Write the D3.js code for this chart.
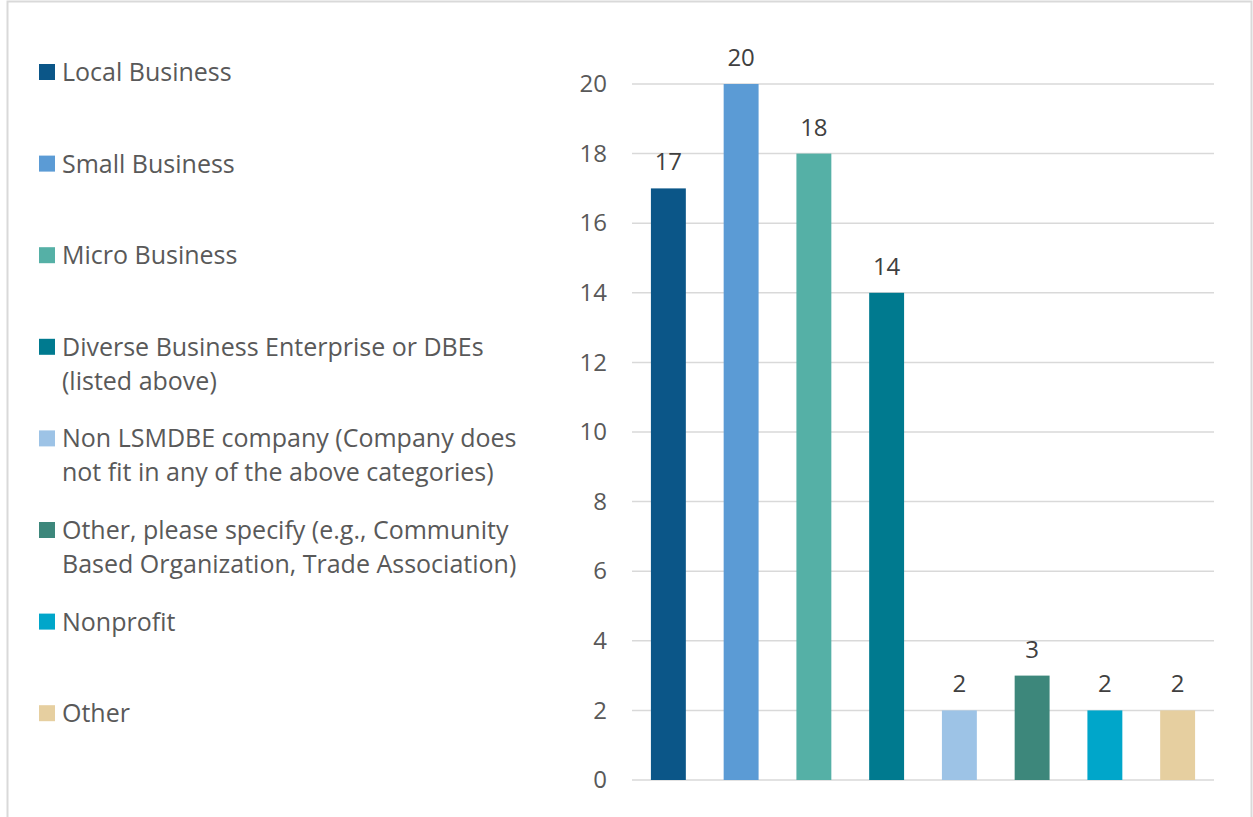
<!DOCTYPE html>
<html>
<head>
<meta charset="utf-8">
<script src="https://cdn.jsdelivr.net/npm/d3@7"></script>
<style>
  body { margin: 0; background: #fff; }
  text { font-family: "Open Sans", "Noto Sans", sans-serif; }
</style>
</head>
<body>
<div id="chart"></div>
<script>
// categories and counts
var categories = [
  ["Local Business"],
  ["Small Business"],
  ["Micro Business"],
  ["Diverse Business Enterprise or DBEs", "(listed above)"],
  ["Non LSMDBE company (Company does", "not fit in any of the above categories)"],
  ["Other, please specify (e.g., Community", "Based Organization, Trade Association)"],
  ["Nonprofit"],
  ["Other"]
];
var values = [17, 20, 18, 14, 2, 3, 2, 2];
var colors = ["#0b5688", "#5b9bd5", "#55b0a6", "#007a8f", "#9dc3e6", "#3d877b", "#00a6ca", "#e6cfa0"];
var yTicks = [0, 2, 4, 6, 8, 10, 12, 14, 16, 18, 20];

var fullWidth = 1253, fullHeight = 817;
var plot = {left: 632, right: 1214, top: 84, bottom: 780};

var svg = d3.select("#chart").append("svg")
    .attr("width", fullWidth)
    .attr("height", fullHeight);

// chart border
svg.append("rect")
    .attr("x", 7.5).attr("y", 1.5)
    .attr("width", 1244).attr("height", 830)
    .attr("fill", "none")
    .attr("stroke", "#d9d9d9")
    .attr("stroke-width", 2);

var xScale = d3.scaleBand()
    .domain(d3.range(values.length))
    .range([plot.left, plot.right])
    .paddingInner(0.52)
    .paddingOuter(0.26);

var yScale = d3.scaleLinear()
    .domain([0, 20])
    .range([plot.bottom, plot.top]);

// gridlines
svg.append("g")
  .selectAll("line")
  .data(yTicks)
  .enter().append("line")
    .attr("x1", plot.left).attr("x2", plot.right)
    .attr("y1", function(d) { return yScale(d); })
    .attr("y2", function(d) { return yScale(d); })
    .attr("stroke", "#d9d9d9")
    .attr("stroke-width", 1.5);

// y axis labels
var yAxis = svg.append("g")
    .attr("transform", "translate(" + (plot.left - 25) + ",0)")
    .call(d3.axisLeft(yScale).tickValues(yTicks).tickSize(0).tickPadding(0));
yAxis.select(".domain").remove();
yAxis.selectAll("text")
    .attr("fill", "#595959")
    .style("font-size", "24px")
    .style("font-family", "'Open Sans', 'Noto Sans', sans-serif");

// bars
svg.selectAll(".bar")
  .data(values)
  .enter().append("rect")
    .attr("class", "bar")
    .attr("x", function(d, i) { return xScale(i); })
    .attr("y", function(d) { return yScale(d); })
    .attr("width", xScale.bandwidth())
    .attr("height", function(d) { return yScale(0) - yScale(d); })
    .attr("fill", function(d, i) { return colors[i]; });

// data labels
svg.selectAll(".value")
  .data(values)
  .enter().append("text")
    .attr("class", "value")
    .attr("x", function(d, i) { return xScale(i) + xScale.bandwidth() / 2; })
    .attr("y", function(d) { return yScale(d) - 18; })
    .attr("text-anchor", "middle")
    .attr("fill", "#404040")
    .style("font-size", "24px")
    .text(function(d) { return d; });

// legend
var legendTop = 72, legendStep = 91.6, lineGap = 34;
var legend = svg.selectAll(".legend")
  .data(categories)
  .enter().append("g")
    .attr("class", "legend")
    .attr("transform", function(d, i) { return "translate(39," + (legendTop + i * legendStep) + ")"; });

legend.append("rect")
    .attr("x", 0).attr("y", -8)
    .attr("width", 16).attr("height", 16)
    .attr("fill", function(d, i) { return colors[i]; });

legend.append("text")
    .attr("x", 23)
    .attr("y", 9)
    .attr("fill", "#595959")
    .style("font-size", "25px")
    .selectAll("tspan")
    .data(function(d) { return d; })
    .enter().append("tspan")
      .attr("x", 23)
      .attr("dy", function(d, i) { return i === 0 ? 0 : lineGap; })
      .text(function(d) { return d; });
</script>
</body>
</html>
